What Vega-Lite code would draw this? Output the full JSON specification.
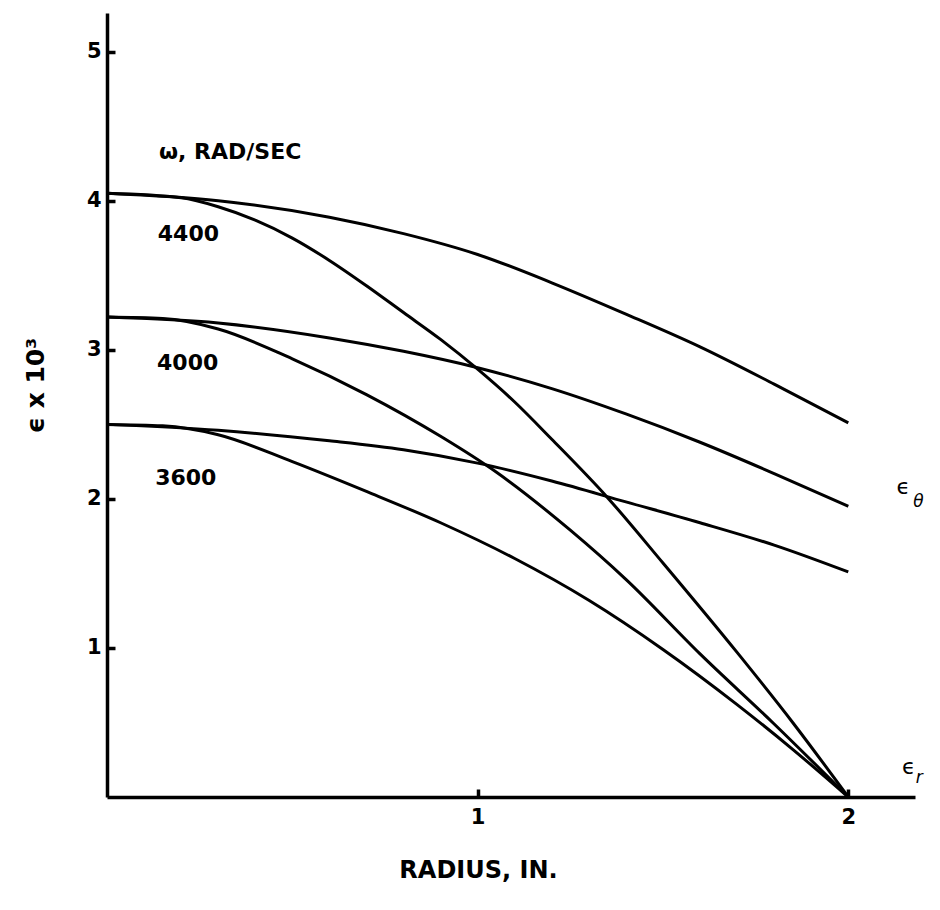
{
  "$schema": "https://vega.github.io/schema/vega-lite/v6.json",
  "autosize": {"type": "none"},
  "width": 808,
  "height": 784,
  "padding": {"left": 107, "top": 13, "right": 25, "bottom": 113},
  "background": "white",
  "config": {
    "view": {"stroke": null},
    "font": "DejaVu Sans",
    "axis": {
      "domainColor": "black",
      "domainWidth": 3.5,
      "tickColor": "black",
      "tickWidth": 3.5,
      "grid": false,
      "labelFont": "DejaVu Sans",
      "labelFontWeight": "bold",
      "labelFontSize": 21,
      "labelColor": "black",
      "titleFont": "DejaVu Sans",
      "titleFontWeight": "bold",
      "titleColor": "black"
    }
  },
  "datasets": {
    "curves": [
      {"series": "4400 θ", "r": 0.0, "e": 4.05},
      {"series": "4400 θ", "r": 0.3, "e": 4.0},
      {"series": "4400 θ", "r": 0.6, "e": 3.89},
      {"series": "4400 θ", "r": 0.8, "e": 3.78},
      {"series": "4400 θ", "r": 1.0, "e": 3.64},
      {"series": "4400 θ", "r": 1.2, "e": 3.45},
      {"series": "4400 θ", "r": 1.4, "e": 3.24},
      {"series": "4400 θ", "r": 1.6, "e": 3.02},
      {"series": "4400 θ", "r": 1.8, "e": 2.77},
      {"series": "4400 θ", "r": 2.0, "e": 2.51},
      {"series": "4400 r", "r": 0.0, "e": 4.05},
      {"series": "4400 r", "r": 0.2, "e": 4.02},
      {"series": "4400 r", "r": 0.3, "e": 3.96},
      {"series": "4400 r", "r": 0.4, "e": 3.87},
      {"series": "4400 r", "r": 0.5, "e": 3.75},
      {"series": "4400 r", "r": 0.6, "e": 3.6},
      {"series": "4400 r", "r": 0.7, "e": 3.43},
      {"series": "4400 r", "r": 0.8, "e": 3.25},
      {"series": "4400 r", "r": 0.9, "e": 3.07},
      {"series": "4400 r", "r": 1.0, "e": 2.87},
      {"series": "4400 r", "r": 1.1, "e": 2.65},
      {"series": "4400 r", "r": 1.2, "e": 2.4},
      {"series": "4400 r", "r": 1.35, "e": 2.01},
      {"series": "4400 r", "r": 1.5, "e": 1.57},
      {"series": "4400 r", "r": 1.7, "e": 0.97},
      {"series": "4400 r", "r": 1.85, "e": 0.5},
      {"series": "4400 r", "r": 2.0, "e": 0.0},
      {"series": "4000 θ", "r": 0.0, "e": 3.22},
      {"series": "4000 θ", "r": 0.3, "e": 3.18},
      {"series": "4000 θ", "r": 0.6, "e": 3.08},
      {"series": "4000 θ", "r": 0.8, "e": 2.99},
      {"series": "4000 θ", "r": 1.0, "e": 2.88},
      {"series": "4000 θ", "r": 1.2, "e": 2.74},
      {"series": "4000 θ", "r": 1.4, "e": 2.57},
      {"series": "4000 θ", "r": 1.6, "e": 2.38},
      {"series": "4000 θ", "r": 1.8, "e": 2.17},
      {"series": "4000 θ", "r": 2.0, "e": 1.95},
      {"series": "4000 r", "r": 0.0, "e": 3.22},
      {"series": "4000 r", "r": 0.15, "e": 3.21},
      {"series": "4000 r", "r": 0.3, "e": 3.14},
      {"series": "4000 r", "r": 0.5, "e": 2.94},
      {"series": "4000 r", "r": 0.7, "e": 2.7},
      {"series": "4000 r", "r": 0.9, "e": 2.42},
      {"series": "4000 r", "r": 1.05, "e": 2.18},
      {"series": "4000 r", "r": 1.25, "e": 1.79},
      {"series": "4000 r", "r": 1.4, "e": 1.46},
      {"series": "4000 r", "r": 1.6, "e": 0.96},
      {"series": "4000 r", "r": 1.8, "e": 0.49},
      {"series": "4000 r", "r": 2.0, "e": 0.0},
      {"series": "3600 θ", "r": 0.0, "e": 2.5},
      {"series": "3600 θ", "r": 0.3, "e": 2.46},
      {"series": "3600 θ", "r": 0.6, "e": 2.39},
      {"series": "3600 θ", "r": 0.8, "e": 2.33},
      {"series": "3600 θ", "r": 1.0, "e": 2.24},
      {"series": "3600 θ", "r": 1.2, "e": 2.12},
      {"series": "3600 θ", "r": 1.4, "e": 1.98},
      {"series": "3600 θ", "r": 1.6, "e": 1.84},
      {"series": "3600 θ", "r": 1.8, "e": 1.69},
      {"series": "3600 θ", "r": 2.0, "e": 1.51},
      {"series": "3600 r", "r": 0.0, "e": 2.5},
      {"series": "3600 r", "r": 0.15, "e": 2.49},
      {"series": "3600 r", "r": 0.3, "e": 2.43},
      {"series": "3600 r", "r": 0.5, "e": 2.25},
      {"series": "3600 r", "r": 0.7, "e": 2.05},
      {"series": "3600 r", "r": 0.9, "e": 1.84},
      {"series": "3600 r", "r": 1.1, "e": 1.6},
      {"series": "3600 r", "r": 1.3, "e": 1.32},
      {"series": "3600 r", "r": 1.5, "e": 0.99},
      {"series": "3600 r", "r": 1.7, "e": 0.62},
      {"series": "3600 r", "r": 1.85, "e": 0.32},
      {"series": "3600 r", "r": 2.0, "e": 0.0}
    ],
    "labels": [
      {"text": "ω, RAD/SEC", "r": 0.14, "e": 4.33},
      {"text": "4400", "r": 0.137, "e": 3.78},
      {"text": "4000", "r": 0.135, "e": 2.91},
      {"text": "3600", "r": 0.13, "e": 2.14}
    ],
    "symbols": [
      {"text": "ϵ", "r": 2.13, "e": 2.08},
      {"text": "ϵ", "r": 2.145, "e": 0.2}
    ],
    "subs": [
      {"text": "θ", "r": 2.175, "e": 1.98},
      {"text": "r", "r": 2.182, "e": 0.13}
    ]
  },
  "layer": [
    {
      "data": {"name": "curves"},
      "mark": {"type": "line", "color": "black", "strokeWidth": 3, "interpolate": "monotone"},
      "encoding": {
        "x": {
          "field": "r", "type": "quantitative",
          "scale": {"domain": [0, 2.18], "nice": false, "zero": true},
          "axis": {
            "values": [1, 2],
            "format": "d",
            "tickSize": -8,
            "title": "RADIUS, IN.",
            "titleFontSize": 24,
            "titleX": 371,
            "titleY": 80,
            "titleAlign": "center",
            "titleBaseline": "alphabetic",
            "labelPadding": 17
          }
        },
        "y": {
          "field": "e", "type": "quantitative",
          "scale": {"domain": [0, 5.26], "nice": false},
          "axis": {
            "values": [1, 2, 3, 4, 5],
            "format": "d",
            "tickSize": -8,
            "title": "ϵ x 10³",
            "titleFontSize": 25,
            "titleAngle": -90,
            "titleX": -72,
            "titleY": 372,
            "titleAlign": "center",
            "titleBaseline": "middle",
            "labelPadding": 14
          }
        },
        "detail": {"field": "series"}
      }
    },
    {
      "data": {"name": "labels"},
      "mark": {"type": "text", "align": "left", "baseline": "middle", "fontSize": 22, "fontWeight": "bold", "font": "DejaVu Sans", "color": "black"},
      "encoding": {
        "x": {"field": "r", "type": "quantitative"},
        "y": {"field": "e", "type": "quantitative"},
        "text": {"field": "text"}
      }
    },
    {
      "data": {"name": "symbols"},
      "mark": {"type": "text", "align": "left", "baseline": "middle", "fontSize": 22, "font": "DejaVu Sans", "color": "black"},
      "encoding": {
        "x": {"field": "r", "type": "quantitative"},
        "y": {"field": "e", "type": "quantitative"},
        "text": {"field": "text"}
      }
    },
    {
      "data": {"name": "subs"},
      "mark": {"type": "text", "align": "left", "baseline": "middle", "fontSize": 17, "fontStyle": "italic", "font": "DejaVu Sans", "color": "black"},
      "encoding": {
        "x": {"field": "r", "type": "quantitative"},
        "y": {"field": "e", "type": "quantitative"},
        "text": {"field": "text"}
      }
    }
  ]
}
